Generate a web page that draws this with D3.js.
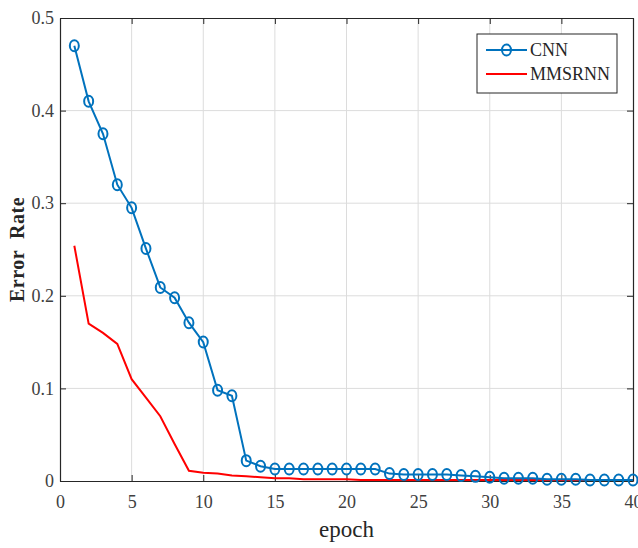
<!DOCTYPE html>
<html>
<head>
<meta charset="utf-8">
<script src="https://cdn.jsdelivr.net/npm/d3@7"></script>
<style>
  body { margin: 0; background: #fff; }
  text { font-family: "Liberation Serif", "DejaVu Serif", serif; }
</style>
</head>
<body>
<div id="chart"></div>
<script>
// Data
const epochs = d3.range(1, 41);
const cnnValues = [0.470, 0.410, 0.375, 0.320, 0.295, 0.251, 0.209, 0.198, 0.171, 0.150,
                   0.098, 0.092, 0.022, 0.016, 0.013, 0.013, 0.013, 0.013, 0.013, 0.013,
                   0.013, 0.013, 0.008, 0.007, 0.007, 0.007, 0.007, 0.006, 0.005, 0.004,
                   0.003, 0.003, 0.003, 0.002, 0.002, 0.002, 0.001, 0.001, 0.001, 0.001];
const mmsrnnValues = [0.254, 0.170, 0.160, 0.148, 0.110, 0.090, 0.070, 0.040, 0.011, 0.009,
                      0.008, 0.006, 0.005, 0.004, 0.003, 0.003, 0.002, 0.002, 0.002, 0.002,
                      0.001, 0.001, 0.001, 0.001, 0.001, 0.001, 0.001, 0.001, 0.001, 0.001,
                      0.001, 0.001, 0.001, 0.001, 0.001, 0.001, 0.001, 0.001, 0.001, 0.001];
const xTicks = [0, 5, 10, 15, 20, 25, 30, 35, 40];
const yTicks = [0, 0.1, 0.2, 0.3, 0.4, 0.5];
const seriesNames = ["CNN", "MMSRNN"];

function createChart() {
  const margin = { top: 18, right: 5, bottom: 67, left: 60 };
  const W = 638, H = 548;
  const width = W - margin.left - margin.right;
  const height = H - margin.top - margin.bottom;

  const svg = d3.select("#chart").append("svg")
    .attr("width", W)
    .attr("height", H);
  const g = svg.append("g")
    .attr("transform", `translate(${margin.left},${margin.top})`);

  const x = d3.scaleLinear().domain([0, 40]).range([0, width]);
  const y = d3.scaleLinear().domain([0, 0.5]).range([height, 0]);

  // grid
  g.append("g").selectAll("line")
    .data(xTicks.slice(1, -1)).enter().append("line")
    .attr("x1", d => x(d)).attr("x2", d => x(d))
    .attr("y1", 0).attr("y2", height)
    .attr("stroke", "#dcdcdc").attr("stroke-width", 1);
  g.append("g").selectAll("line")
    .data(yTicks.slice(1, -1)).enter().append("line")
    .attr("y1", d => y(d)).attr("y2", d => y(d))
    .attr("x1", 0).attr("x2", width)
    .attr("stroke", "#dcdcdc").attr("stroke-width", 1);

  // axes
  g.append("g")
    .attr("transform", `translate(0,${height})`)
    .call(d3.axisBottom(x).tickValues(xTicks).tickFormat(d3.format("d")).tickSizeInner(-6).tickSizeOuter(0).tickPadding(14));
  g.append("g")
    .call(d3.axisLeft(y).tickValues(yTicks).tickFormat(d => d === 0 ? "0" : d3.format(".1f")(d)).tickSizeInner(-6).tickSizeOuter(0).tickPadding(6));
  // top / right ticks
  g.append("g")
    .call(d3.axisTop(x).tickValues(xTicks).tickFormat("").tickSizeInner(-6).tickSizeOuter(0));
  g.append("g")
    .attr("transform", `translate(${width},0)`)
    .call(d3.axisRight(y).tickValues(yTicks).tickFormat("").tickSizeInner(-6).tickSizeOuter(0));

  g.selectAll(".domain").attr("stroke", "#262626").attr("stroke-width", 1.2);
  g.selectAll(".tick line").attr("stroke", "#262626");
  g.selectAll(".tick text")
    .attr("font-size", 18)
    .attr("fill", "#404040")
    .style("font-family", "'Liberation Serif', serif");

  // lines
  const cnnData = epochs.map((e, i) => ({ e, v: cnnValues[i] }));
  const mmsData = epochs.map((e, i) => ({ e, v: mmsrnnValues[i] }));
  const line = d3.line().x(d => x(d.e)).y(d => y(d.v));

  g.append("path").datum(mmsData)
    .attr("d", line)
    .attr("fill", "none")
    .attr("stroke", "#ff0000")
    .attr("stroke-width", 2);

  g.append("path").datum(cnnData)
    .attr("d", line)
    .attr("fill", "none")
    .attr("stroke", "#0072bd")
    .attr("stroke-width", 2);

  g.selectAll(".cnn-dot")
    .data(cnnData).enter().append("ellipse")
    .attr("class", "cnn-dot")
    .attr("cx", d => x(d.e))
    .attr("cy", d => y(d.v))
    .attr("rx", 4.5).attr("ry", 5.5)
    .attr("fill", "none")
    .attr("stroke", "#0072bd")
    .attr("stroke-width", 2);

  // labels
  svg.append("text")
    .attr("x", margin.left + width / 2)
    .attr("y", H - 11)
    .attr("text-anchor", "middle")
    .attr("font-size", 23)
    .attr("fill", "#262626")
    .text("epoch");

  svg.append("text")
    .attr("transform", `translate(24,${margin.top + height / 2}) rotate(-90)`)
    .attr("text-anchor", "middle")
    .attr("font-size", 20)
    .attr("font-weight", "bold")
    .attr("letter-spacing", 0.5)
    .attr("fill", "#262626")
    .text("Error\u00a0 Rate");

  // legend
  const legend = svg.append("g").attr("transform", "translate(477,34)");
  legend.append("rect")
    .attr("width", 140).attr("height", 59)
    .attr("fill", "#fff")
    .attr("stroke", "#262626").attr("stroke-width", 1);
  const colors = ["#0072bd", "#ff0000"];
  seriesNames.forEach((name, i) => {
    const ly = 16 + i * 24;
    legend.append("line")
      .attr("x1", 9).attr("x2", 50)
      .attr("y1", ly).attr("y2", ly)
      .attr("stroke", colors[i]).attr("stroke-width", 2);
    if (i === 0) {
      legend.append("ellipse")
        .attr("cx", 29.5).attr("cy", ly)
        .attr("rx", 4.5).attr("ry", 5.5)
        .attr("fill", "none")
        .attr("stroke", colors[i]).attr("stroke-width", 2);
    }
    legend.append("text")
      .attr("x", 53).attr("y", ly + 6)
      .attr("font-size", 18)
      .attr("fill", "#262626")
      .text(name);
  });
}

createChart();
</script>
</body>
</html>
